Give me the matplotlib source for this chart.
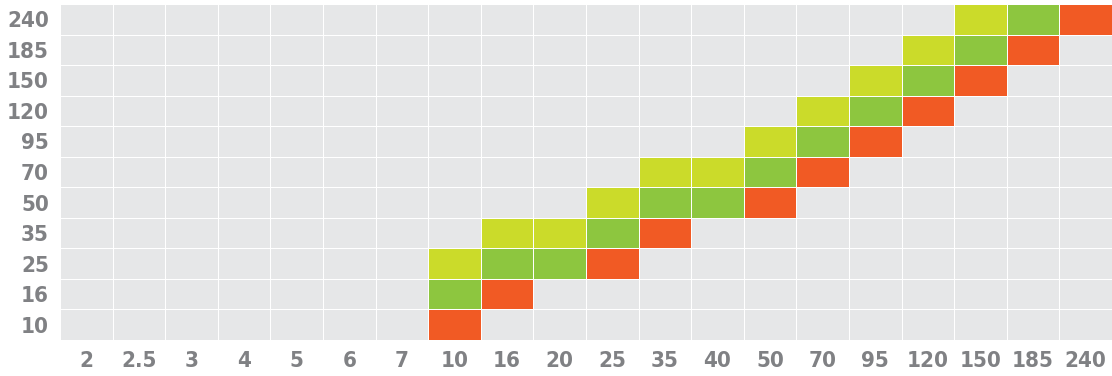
import matplotlib.pyplot as plt
import numpy as np
from matplotlib import font_manager
from matplotlib.colors import ListedColormap

x_labels = ["2", "2.5", "3", "4", "5", "6", "7", "10", "16", "20", "25", "35",
            "40", "50", "70", "95", "120", "150", "185", "240"]
y_labels = ["10", "16", "25", "35", "50", "70", "95", "120", "150", "185", "240"]

# (x label, y label) of each coloured cell
yellow_cells = [("10", "25"), ("16", "35"), ("20", "35"), ("25", "50"), ("35", "70"),
                ("40", "70"), ("50", "95"), ("70", "120"), ("95", "150"),
                ("120", "185"), ("150", "240")]
green_cells = [("10", "16"), ("16", "25"), ("20", "25"), ("25", "35"), ("35", "50"),
               ("40", "50"), ("50", "70"), ("70", "95"), ("95", "120"),
               ("120", "150"), ("150", "185"), ("185", "240")]
red_cells = [("10", "10"), ("16", "16"), ("25", "25"), ("35", "35"), ("50", "50"),
             ("70", "70"), ("95", "95"), ("120", "120"), ("150", "150"),
             ("185", "185"), ("240", "240")]

COLORS = ["#E6E7E8", "#CBDB2A", "#8DC63F", "#F15A24"]
LABEL_COLOR = "#808184"

print(sorted({f.name for f in font_manager.fontManager.ttflist if "Narrow" in f.name or "Condensed" in f.name or "DejaVu" in f.name}))

grid = np.zeros((len(y_labels), len(x_labels)))
for code, cells in enumerate([yellow_cells, green_cells, red_cells], start=1):
    for xl, yl in cells:
        grid[y_labels.index(yl), x_labels.index(xl)] = code

fig = plt.figure(figsize=(11.12, 3.76), dpi=100)
ax = fig.add_axes([60 / 1112, 36 / 376, 1052 / 1112, 336 / 376])
ax.pcolormesh(grid, cmap=ListedColormap(COLORS), vmin=-0.5, vmax=3.5,
              edgecolors="white", linewidth=0.6)
ax.set_xlim(0, len(x_labels))
ax.set_ylim(0, len(y_labels))

font = dict(family="DejaVu Sans", fontstretch="condensed", fontweight="bold",
            fontsize=16, color=LABEL_COLOR)
ax.set_xticks(np.arange(len(x_labels)) + 0.5)
ax.set_xticklabels(x_labels, **font)
ax.set_yticks(np.arange(len(y_labels)) + 0.5)
ax.set_yticklabels(y_labels, **font)
ax.tick_params(length=0, pad=8)
for spine in ax.spines.values():
    spine.set_visible(False)

fig.savefig("out.png", dpi=100)
